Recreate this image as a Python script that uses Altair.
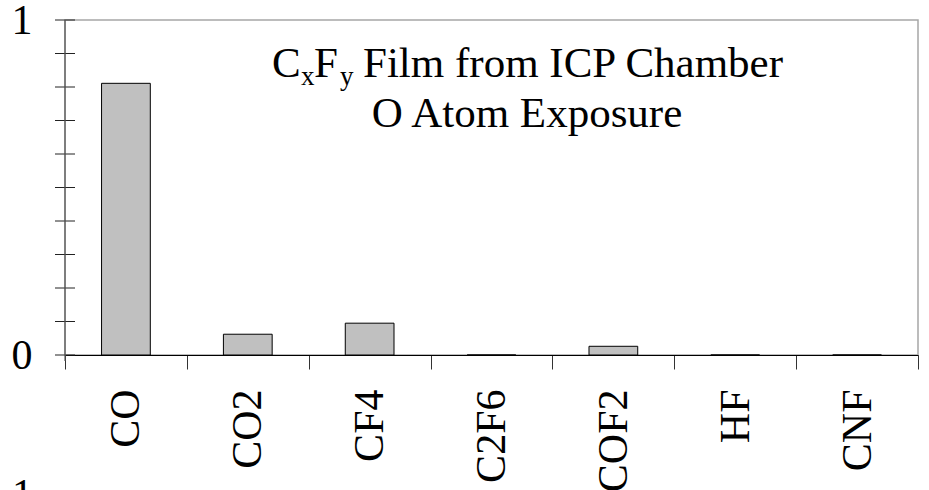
import altair as alt
import pandas as pd

# Product yields per species
species = ["CO", "CO2", "CF4", "C2F6", "COF2", "HF", "CNF"]
yields = [0.811, 0.062, 0.095, 0.0, 0.026, 0.0, 0.0]

# y-axis tick positions (minor ticks every 0.1)
tick_values = [0.0, 0.1, 0.2, 0.3, 0.4, 0.5, 0.6, 0.7, 0.8, 0.9, 1.0]

SERIF = "Liberation Serif"
W, H = 853, 335

bars_df = pd.DataFrame({"species": species, "value": yields})
ticks_df = pd.DataFrame({"t": tick_values})

x_scale = alt.Scale(domain=species, paddingInner=0, paddingOuter=0)
y_scale = alt.Scale(domain=[0, 1], nice=False, zero=True)

y_axis = alt.Axis(values=[0, 1], format="d", ticks=False, tickSize=0,
                  labelFont=SERIF, labelFontSize=42, labelColor="#000000",
                  labelPadding=33, labelBaseline="middle",
                  domain=False, grid=False, title=None)

bars = alt.Chart(bars_df).mark_bar(
    width=alt.RelativeBandSize(0.4), fill="#c0c0c0", stroke="#000000", strokeWidth=1
).encode(
    x=alt.X("species:N", scale=x_scale, sort=species, title=None,
            axis=alt.Axis(labelAngle=-90, labelAlign="right", labelBaseline="middle",
                          labelFont=SERIF, labelFontSize=42, labelColor="#000000",
                          labelPadding=20, tickBand="extent", tickSize=14,
                          tickColor="#333333", domainColor="#000000", domainWidth=1,
                          grid=False)),
    y=alt.Y("value:Q", scale=y_scale, title=None, axis=y_axis),
)

# crossing ticks on the y axis
yticks = alt.Chart(ticks_df).mark_rule(color="#222222", strokeWidth=1).encode(
    x=alt.value(-10), x2=alt.value(10),
    y=alt.Y("t:Q", scale=y_scale, title=None, axis=y_axis)
)

# y axis line, running a little below zero
yline = alt.Chart(ticks_df.head(1)).mark_rule(color="#555555", strokeWidth=1.2).encode(
    x=alt.value(0), y=alt.value(0), y2=alt.value(H + 6)
)

def label(text, x, y, size, align="left"):
    return alt.Chart(pd.DataFrame({"s": [text]})).mark_text(
        font=SERIF, fontSize=size, color="#000000",
        align=align, baseline="alphabetic"
    ).encode(text="s:N", x=alt.value(x), y=alt.value(y))

title_parts = [
    label("C", 207, 57, 43),
    label("x", 236, 65, 27),
    label("F", 249, 57, 43),
    label("y", 275, 65, 27),
    label("Film from ICP Chamber", 298, 57, 43),
    label("O Atom Exposure", 462, 107, 43, align="center"),
    label("1", -53, 488, 42),
]

chart = alt.layer(bars, yticks, yline, *title_parts).properties(
    width=W, height=H,
    autosize=alt.AutoSizeParams(type="none"),
    padding={"left": 65, "top": 20, "right": 11, "bottom": 135},
    background="#ffffff",
).configure_view(
    stroke="#a6a6a6", strokeWidth=1.5
).configure_axis(
    labelFont=SERIF
).configure_text(
    font=SERIF
)

chart.save("out.html", embed_options={"renderer": "svg", "actions": False})
